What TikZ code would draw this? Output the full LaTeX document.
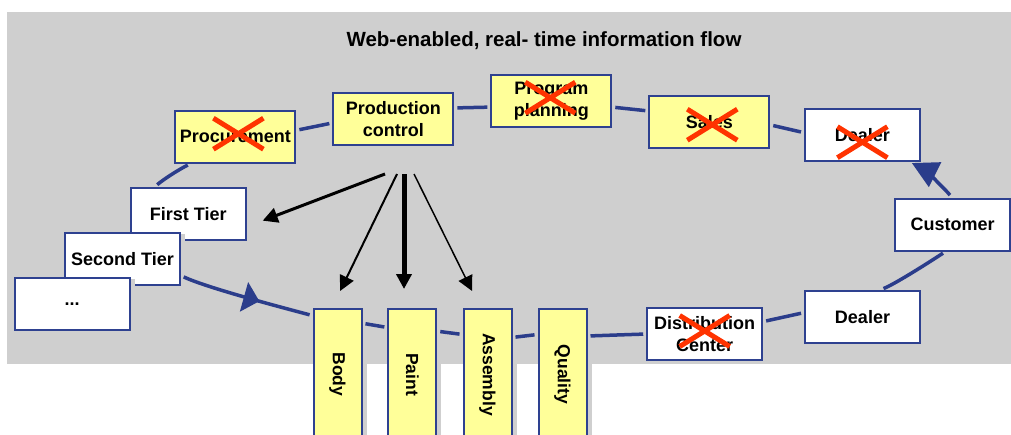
\documentclass[tikz,border=0pt]{standalone}
\usepackage{fontspec}
\setmainfont{Liberation Sans}
\usetikzlibrary{arrows.meta,decorations.markings,shadows}

\definecolor{bggrey}{HTML}{CFCFCF}
\definecolor{boxblue}{HTML}{2E4190}
\definecolor{ringblue}{HTML}{2B3D8B}
\definecolor{paleyellow}{HTML}{FFFF99}
\definecolor{crossred}{HTML}{FF3300}

\tikzset{
  stage/.style={draw=boxblue,line width=2pt,inner sep=0pt,align=center,
    font=\bfseries\fontsize{18}{22}\selectfont,
    general shadow={fill=bggrey,shadow xshift=5pt,shadow yshift=-1pt}},
  yellowbox/.style={stage,fill=paleyellow,minimum width=120pt,minimum height=52pt},
  whitebox/.style={stage,fill=white,minimum width=115pt,minimum height=52pt},
  shopbox/.style={stage,fill=paleyellow,minimum width=48pt,minimum height=131pt,
    font=\bfseries\fontsize{17.5}{20}\selectfont},
  ring/.style={draw=ringblue,line width=3.5pt,shorten <=3pt,shorten >=3pt},
  ring mid/.style={postaction={decorate},decoration={markings,
    mark=at position 0.6 with {\arrow{Triangle[length=16pt,width=30pt,color=ringblue]}}}},
  feed/.style={draw=black,-{Triangle[length=15pt,width=15pt]}},
  dropped/.pic={\draw[crossred,line width=5pt] (-25,-15.5) -- (25,15.5) (-25,15.5) -- (25,-15.5);}
}

\begin{document}
\begin{tikzpicture}[x=1pt,y=-1pt]
\useasboundingbox (0,0) rectangle (1011,434);
\fill[bggrey] (7,12) rectangle (1011,364);

\node[font=\bfseries\fontsize{20.5}{24}\selectfont] (title) at (544,41) {Web-enabled, real- time information flow};

\node[yellowbox] (procurement) at (235.4,136.7) {\raisebox{-3pt}{Procurement}};
\node[yellowbox] (production) at (393.3,118.7) {Production\\control};
\node[yellowbox] (planning) at (551.3,100.7) {\raisebox{-3pt}{\begin{tabular}{@{}c@{}}Program\\planning\end{tabular}}};
\node[yellowbox] (sales) at (709.3,121.7) {Sales};
\node[whitebox] (dealer1) at (862.4,134.7) {\raisebox{-2pt}{Dealer}};

\node[whitebox] (tier1) at (188.3,213.7) {First Tier};
\node[whitebox] (tier2) at (122.5,258.8) {Second Tier};
\node[whitebox] (tiern) at (72.2,303.7) {...};

\node[shopbox] (body) at (337.5,374.5) {\rotatebox{-90}{Body}};
\node[shopbox] (paint) at (412.3,374.5) {\rotatebox{-90}{Paint}};
\node[shopbox] (assembly) at (487.5,374.5) {\rotatebox{-90}{Assembly}};
\node[shopbox] (quality) at (562.5,374.5) {\rotatebox{-90}{Quality}};

\node[whitebox] (distribution) at (704.7,334) {Distribution\\Center};
\node[whitebox] (dealer2) at (862.5,316.7) {Dealer};
\node[whitebox] (customer) at (952.7,224.5) {Customer};

\pic at ([xshift=3pt,yshift=3pt]procurement.center) {dropped};
\pic at ([xshift=-1pt,yshift=3pt]planning.center) {dropped};
\pic at ([xshift=3pt,yshift=-3pt]sales.center) {dropped};
\pic at ([yshift=-7.5pt]dealer1.center) {dropped};
\pic at ([yshift=3pt]distribution.center) {dropped};

\draw[ring] (procurement.-149) .. controls +(-12,6) and +(8,-7) .. (tier1.141);
\draw[ring] (production.-176) -- (procurement.6);
\draw[ring] (planning.-174) -- (production.10);
\draw[ring] (sales.170) -- (planning.-6);
\draw[ring] (dealer1.178) -- (sales.-3);
\draw[ring,-{Triangle[length=26pt,width=27pt]}] (customer.92) .. controls +(-6,-8) and +(12,6) .. (dealer1.-30);
\draw[ring] (dealer2.56) .. controls +(15,-6) and +(-12,8) .. (customer.-105);
\draw[ring] (distribution.12) -- (dealer2.176);
\draw[ring] (quality.57) -- (distribution.180);
\draw[ring] (assembly.56) -- (quality.122);
\draw[ring] (paint.60) -- (assembly.122);
\draw[ring] (body.64) -- (paint.118);
\draw[ring,ring mid] (tier2.-16) .. controls +(25,12) and +(-30,-8) .. (body.113);

\coordinate (fan) at (404,174);
\draw[feed,line width=3pt,shorten >=17pt] ([xshift=-19pt]fan) -- ([yshift=-13pt]tier1.east);
\draw[feed,line width=2pt,shorten >=19pt] ([xshift=-7pt]fan) -- ([xshift=-5.6pt]body.north);
\draw[feed,line width=5pt,shorten >=19pt] (fan) -- (fan |- paint.north);
\draw[feed,line width=1.5pt,shorten >=19pt] ([xshift=10pt]fan) -- ([xshift=-7pt]assembly.north);
\end{tikzpicture}
\end{document}
